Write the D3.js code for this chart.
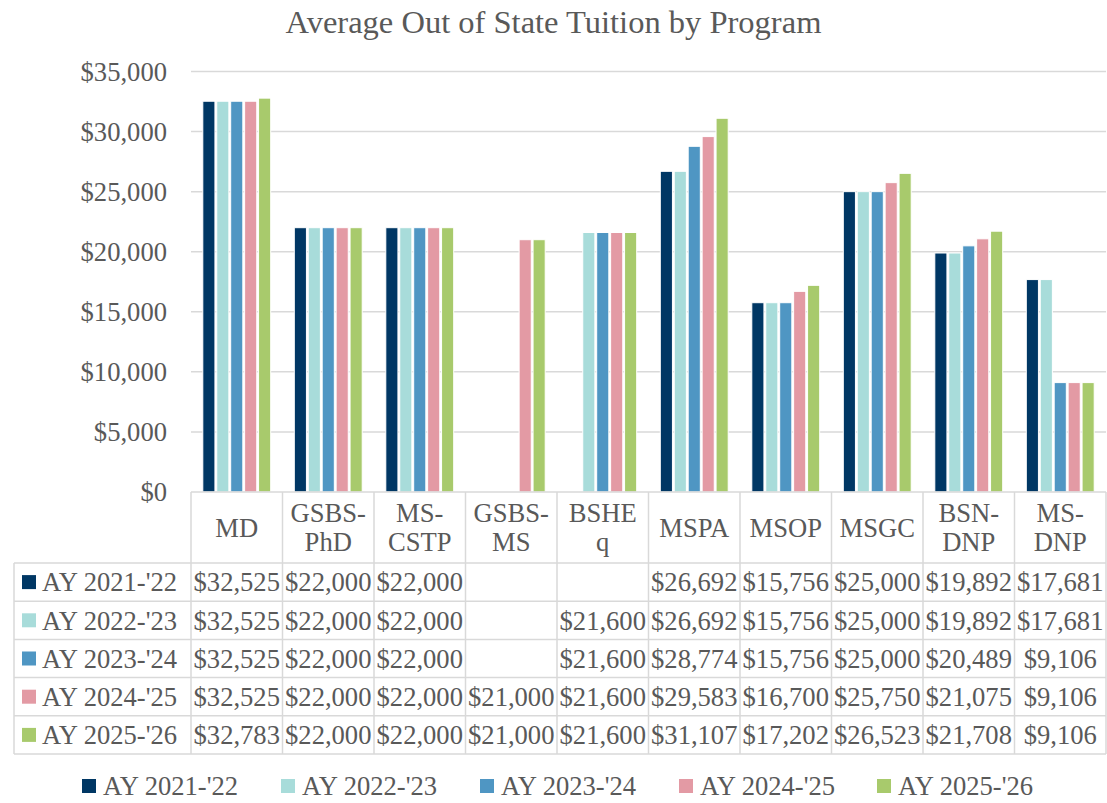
<!DOCTYPE html>
<html>
<head>
<meta charset="utf-8">
<script src="https://cdn.jsdelivr.net/npm/d3@7"></script>
</head>
<body style="margin:0;background:#fff">
<svg id="chart" width="1107" height="803" style="display:block"></svg>
<script>
// Programs (categories) and their header labels in the data table
const programs = ["MD", "GSBS-PhD", "MS-CSTP", "GSBS-MS", "BSHEq", "MSPA", "MSOP", "MSGC", "BSN-DNP", "MS-DNP"];
const programLabels = ["MD", "GSBS-\nPhD", "MS-\nCSTP", "GSBS-\nMS", "BSHE\nq", "MSPA", "MSOP", "MSGC", "BSN-\nDNP", "MS-\nDNP"];

// Academic years (series)
const years = ["AY 2021-'22", "AY 2022-'23", "AY 2023-'24", "AY 2024-'25", "AY 2025-'26"];
const yearColors = ["#003764", "#A8DCDA", "#4F96C3", "#E39AA4", "#A8CA6C"];

// Out-of-state tuition per program, one array per academic year (null = not offered)
const ay2021 = [32525, 22000, 22000, null, null, 26692, 15756, 25000, 19892, 17681];
const ay2022 = [32525, 22000, 22000, null, 21600, 26692, 15756, 25000, 19892, 17681];
const ay2023 = [32525, 22000, 22000, null, 21600, 28774, 15756, 25000, 20489, 9106];
const ay2024 = [32525, 22000, 22000, 21000, 21600, 29583, 16700, 25750, 21075, 9106];
const ay2025 = [32783, 22000, 22000, 21000, 21600, 31107, 17202, 26523, 21708, 9106];

// Value axis ticks
const yTicks = [0, 5000, 10000, 15000, 20000, 25000, 30000, 35000];

const series = [ay2021, ay2022, ay2023, ay2024, ay2025];

const FONT = "'Liberation Serif', 'Times New Roman', serif";
const INK = "#595959";
const svg = d3.select("#chart").style("font-family", FONT);
const W = 1107;
const plot = { left: 191, right: 1106, top: 71.5, bottom: 492 };
const table = { left: 14, headerBottom: 563, rowH: 38.2 };
const grid = "#D9D9D9";
const fs = 26.6;
const fmt = v => "$" + d3.format(",")(v);

const label = (sel) => sel.style("font-family", FONT).attr("fill", INK).style("font-size", fs + "px");

const x0 = d3.scaleBand().domain(programs).range([plot.left, plot.right]);
const x1 = d3.scaleBand().domain(years)
  .range([11.8, x0.bandwidth() - 11.8]).paddingInner(0.13);
const y = d3.scaleLinear().domain([0, 35000]).range([plot.bottom, plot.top]);

// Title, sized to span its width
const title = svg.append("text")
  .attr("x", W / 2).attr("y", 33)
  .attr("text-anchor", "middle")
  .call(label)
  .style("font-size", "28px")
  .text("Average Out of State Tuition by Program");
const tw = title.node().getComputedTextLength();
title.style("font-size", (28 * 536 / tw) + "px");

// Gridlines
svg.append("g").selectAll("line").data(yTicks.filter(d => d > 0)).join("line")
  .attr("x1", plot.left).attr("x2", plot.right)
  .attr("y1", d => y(d)).attr("y2", d => y(d))
  .attr("stroke", grid).attr("stroke-width", 1.5);

// Y axis labels
const yAxis = d3.axisLeft(y).tickValues(yTicks).tickFormat(fmt).tickSize(0).tickPadding(24);
const ya = svg.append("g").attr("transform", `translate(${plot.left},0)`).call(yAxis)
  .attr("font-family", null).attr("font-size", null);
ya.select(".domain").remove();
ya.selectAll("text").call(label);

// Bars
const groups = svg.append("g").selectAll("g").data(years).join("g")
  .attr("fill", (d, i) => yearColors[i]);
groups.each(function (yr, si) {
  d3.select(this).selectAll("rect")
    .data(programs.map((p, pi) => ({ p, v: series[si][pi] })).filter(d => d.v != null))
    .join("rect")
    .attr("x", d => x0(d.p) + x1(yr))
    .attr("width", x1.bandwidth())
    .attr("y", d => y(d.v))
    .attr("height", d => y(0) - y(d.v))
    .attr("stroke", "#fff").attr("stroke-width", 1);
});

// Data table
const rowTop = i => table.headerBottom + i * table.rowH;
const tableBottom = rowTop(years.length);
const tg = svg.append("g");

// horizontal borders
tg.append("line").attr("x1", plot.left).attr("x2", plot.right)
  .attr("y1", plot.bottom).attr("y2", plot.bottom)
  .attr("stroke", grid).attr("stroke-width", 1.5);
d3.range(years.length + 1).forEach(i => {
  tg.append("line").attr("x1", table.left).attr("x2", plot.right)
    .attr("y1", rowTop(i)).attr("y2", rowTop(i))
    .attr("stroke", grid).attr("stroke-width", 1.5);
});
// vertical borders
tg.append("line").attr("x1", table.left).attr("x2", table.left)
  .attr("y1", table.headerBottom).attr("y2", tableBottom)
  .attr("stroke", grid).attr("stroke-width", 1.5);
programs.concat(["__end"]).forEach((p, i) => {
  const xx = i < programs.length ? x0(p) : plot.right;
  tg.append("line").attr("x1", xx).attr("x2", xx)
    .attr("y1", plot.bottom).attr("y2", tableBottom)
    .attr("stroke", grid).attr("stroke-width", 1.5);
});

// header labels
const headerMid = (plot.bottom + table.headerBottom) / 2;
programs.forEach((p, i) => {
  const lines = programLabels[i].split("\n");
  const lh = 29;
  const t = tg.append("text")
    .attr("text-anchor", "middle")
    .call(label);
  lines.forEach((ln, k) => {
    t.append("tspan")
      .attr("x", x0(p) + x0.bandwidth() / 2)
      .attr("y", headerMid + (k - (lines.length - 1) / 2) * lh)
      .attr("dy", "0.35em")
      .text(ln);
  });
});

// rows: legend key, year label, values
years.forEach((yr, si) => {
  const cy = rowTop(si) + table.rowH / 2;
  tg.append("rect").attr("x", 22).attr("y", cy - 7).attr("width", 14).attr("height", 14)
    .attr("fill", yearColors[si]);
  tg.append("text").attr("x", 42).attr("y", cy).attr("dy", "0.35em")
    .call(label).text(yr);
  programs.forEach((p, pi) => {
    const v = series[si][pi];
    if (v == null) return;
    tg.append("text")
      .attr("x", x0(p) + x0.bandwidth() / 2).attr("y", cy).attr("dy", "0.35em")
      .attr("text-anchor", "middle")
      .call(label).text(fmt(v));
  });
});

// Legend
const legendX = [82, 281, 480, 679, 877];
const lg = svg.append("g");
years.forEach((yr, i) => {
  const cy = 786;
  lg.append("rect").attr("x", legendX[i]).attr("y", cy - 7).attr("width", 14).attr("height", 14)
    .attr("fill", yearColors[i]);
  lg.append("text").attr("x", legendX[i] + 21).attr("y", cy).attr("dy", "0.35em")
    .call(label).text(yr);
});
</script>
</body>
</html>
